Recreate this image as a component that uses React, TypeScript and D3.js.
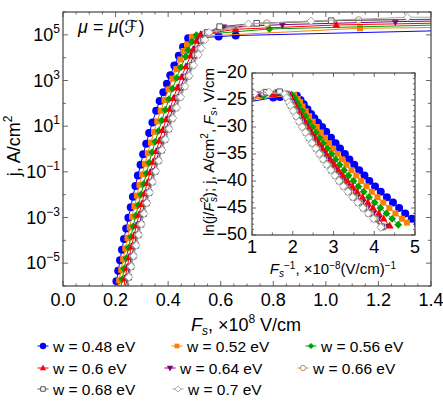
import React from "react";
import * as d3 from "d3";

const w048 = [[0.667,-25.68],[1.522,-24.56],[1.689,-24.46],[2.10,-24.2],[2.19,-25.0],[2.27,-25.8],[2.36,-26.7],[2.45,-27.6],[2.53,-28.4],[2.62,-29.2],[2.72,-30.0],[2.82,-30.9],[2.94,-32.0],[3.05,-33.0],[3.16,-34.0],[3.28,-35.0],[3.39,-36.0],[3.51,-37.0],[3.63,-38.0],[3.76,-39.0],[3.88,-40.0],[4.02,-41.0],[4.16,-42.0],[4.31,-43.0],[4.46,-44.0],[4.61,-45.0],[4.76,-46.0],[4.92,-47.0],[5.07,-48.0]];
const w052 = [[0.667,-25.38],[0.885,-24.91],[2.04,-24.1],[2.12,-24.8],[2.18,-25.4],[2.24,-26.2],[2.32,-27.1],[2.40,-28.0],[2.49,-29.0],[2.59,-30.0],[2.69,-31.0],[2.79,-32.0],[2.89,-33.0],[2.99,-34.0],[3.10,-35.0],[3.21,-36.0],[3.32,-37.0],[3.44,-38.0],[3.56,-39.0],[3.68,-40.0],[3.81,-41.0],[3.94,-42.0],[4.08,-43.0],[4.22,-44.0],[4.37,-45.0],[4.52,-46.0],[4.68,-47.0],[4.80,-47.7]];
const w056 = [[0.667,-25.10],[1.274,-24.25],[1.97,-24.0],[2.04,-24.6],[2.10,-25.4],[2.14,-26.0],[2.23,-27.0],[2.31,-28.0],[2.40,-29.0],[2.48,-30.0],[2.57,-31.0],[2.66,-32.0],[2.75,-33.0],[2.85,-34.0],[2.95,-35.0],[3.05,-36.0],[3.15,-37.0],[3.26,-38.0],[3.37,-39.0],[3.49,-40.0],[3.61,-41.0],[3.74,-42.0],[3.87,-43.0],[4.01,-44.0],[4.15,-45.0],[4.30,-46.0],[4.44,-47.0],[4.59,-48.1]];
const w060 = [[0.667,-24.92],[0.962,-24.41],[1.522,-23.93],[1.91,-24.0],[1.97,-24.6],[2.02,-25.4],[2.06,-26.0],[2.14,-27.0],[2.22,-28.0],[2.30,-29.0],[2.38,-30.0],[2.46,-31.0],[2.55,-32.0],[2.64,-33.0],[2.73,-34.0],[2.82,-35.0],[2.92,-36.0],[3.02,-37.0],[3.12,-38.0],[3.23,-39.0],[3.34,-40.0],[3.46,-41.0],[3.58,-42.0],[3.71,-43.0],[3.84,-44.0],[3.97,-45.0],[4.11,-46.0],[4.23,-47.0],[4.38,-48.3]];
const w064 = [[0.667,-24.71],[0.791,-24.47],[1.198,-23.94],[1.639,-23.58],[1.87,-24.0],[1.92,-24.6],[1.97,-25.4],[2.01,-26.0],[2.08,-27.0],[2.16,-28.0],[2.23,-29.0],[2.31,-30.0],[2.39,-31.0],[2.47,-32.0],[2.55,-33.0],[2.64,-34.0],[2.73,-35.0],[2.82,-36.0],[2.91,-37.0],[3.01,-38.0],[3.11,-39.0],[3.22,-40.0],[3.33,-41.0],[3.45,-42.0],[3.57,-43.0],[3.70,-44.0],[3.83,-45.0],[3.97,-46.0],[4.10,-47.0],[4.27,-48.4]];
const w066 = [[0.667,-24.57],[0.889,-24.06],[1.29,-23.65],[1.84,-23.9],[1.89,-24.6],[1.94,-25.4],[1.98,-26.0],[2.05,-27.0],[2.12,-28.0],[2.19,-29.0],[2.27,-30.0],[2.35,-31.0],[2.43,-32.0],[2.51,-33.0],[2.60,-34.0],[2.69,-35.0],[2.78,-36.0],[2.87,-37.0],[2.97,-38.0],[3.07,-39.0],[3.17,-40.0],[3.28,-41.0],[3.40,-42.0],[3.52,-43.0],[3.64,-44.0],[3.77,-45.0],[3.90,-46.0],[4.03,-47.0],[4.21,-48.5]];
const w068 = [[0.667,-24.53],[0.98,-23.94],[1.357,-23.55],[1.678,-23.47],[1.82,-23.9],[1.87,-24.6],[1.92,-25.4],[1.96,-26.0],[2.03,-27.0],[2.10,-28.0],[2.17,-29.0],[2.25,-30.0],[2.33,-31.0],[2.41,-32.0],[2.49,-33.0],[2.58,-34.0],[2.67,-35.0],[2.76,-36.0],[2.85,-37.0],[2.95,-38.0],[3.05,-39.0],[3.15,-40.0],[3.26,-41.0],[3.37,-42.0],[3.49,-43.0],[3.61,-44.0],[3.74,-45.0],[3.87,-46.0],[4.00,-47.0],[4.18,-48.5]];
const w070 = [[0.667,-24.34],[0.763,-24.10],[1.06,-23.81],[1.418,-23.53],[1.80,-23.9],[1.85,-24.6],[1.90,-25.4],[1.94,-26.0],[2.01,-27.0],[2.08,-28.0],[2.15,-29.0],[2.23,-30.0],[2.31,-31.0],[2.39,-32.0],[2.47,-33.0],[2.56,-34.0],[2.65,-35.0],[2.74,-36.0],[2.83,-37.0],[2.93,-38.0],[3.03,-39.0],[3.13,-40.0],[3.24,-41.0],[3.35,-42.0],[3.47,-43.0],[3.59,-44.0],[3.72,-45.0],[3.85,-46.0],[3.98,-47.0],[4.16,-48.6]];

const labels = ["w = 0.48 eV", "w = 0.52 eV", "w = 0.56 eV", "w = 0.6 eV", "w = 0.64 eV", "w = 0.66 eV", "w = 0.68 eV", "w = 0.7 eV"];
const xTicks = [0, 0.2, 0.4, 0.6, 0.8, 1.0, 1.2, 1.4];
const yExp = [-5, -3, -1, 1, 3, 5];
const insetXTicks = [1, 2, 3, 4, 5];
const insetYTicks = [-50, -45, -40, -35, -30, -25, -20];

const series = [
  { data: w048, color: "#0000ff", shape: "circle", open: false, s: 4 },
  { data: w052, color: "#ff8000", shape: "square", open: false, s: 3 },
  { data: w056, color: "#00a000", shape: "diamond", open: false, s: 3 },
  { data: w060, color: "#ff0000", shape: "triUp", open: false, s: 3.4 },
  { data: w064, color: "#800080", shape: "triDown", open: false, s: 3.4 },
  { data: w066, color: "#c09060", shape: "circle", open: true, s: 3.3 },
  { data: w068, color: "#555555", shape: "square", open: true, s: 2.8 },
  { data: w070, color: "#aaaaaa", shape: "diamond", open: true, s: 3 },
];

// legend layout (marker centre x, row y)
const legendPos = [[43, 346], [177, 346], [311, 346], [43, 368], [170, 368], [303, 368], [43, 389], [178, 389]];

const FONT = "Liberation Sans, Arial, DejaVu Sans, sans-serif";

function markerPath(shape: string, s: number) {
  switch (shape) {
    case "circle":
      return d3.symbol(d3.symbolCircle, Math.PI * s * s)();
    case "square":
      return `M${-s},${-s}H${s}V${s}H${-s}Z`;
    case "diamond":
      return `M0,${-s * 1.3}L${s * 1.3},0L0,${s * 1.3}L${-s * 1.3},0Z`;
    case "triUp":
      return `M0,${-s * 1.25}L${s * 1.15},${s * 0.8}L${-s * 1.15},${s * 0.8}Z`;
    default:
      return `M0,${s * 1.25}L${s * 1.15},${-s * 0.8}L${-s * 1.15},${-s * 0.8}Z`;
  }
}

// Fs in 1e8 V/cm, j in A/cm^2
const toMain = (p: number[]) => {
  const F = 1 / p[0];
  return [F, Math.exp(p[1]) * (F * 1e8) ** 2];
};

const x = d3.scaleLinear().domain([0, 1.4]).range([63, 431]);
const y = d3.scaleLog().domain([1e-6, 1e6]).range([286, 12]);
const xi = d3.scaleLinear().domain([1, 5]).range([252, 415]);
const yi = d3.scaleLinear().domain([-50, -20]).range([235, 73]);

const FRAME = "#444";

export default function App() {
  const mainLine = d3.line<number[]>().x((d) => x(d[0])).y((d) => y(d[1]));
  const insetLine = d3.line<number[]>().x((d) => xi(d[0])).y((d) => yi(d[1]));

  const mainSeries = series.map((s) => ({
    ...s,
    pts: s.data.map(toMain).sort((a, b) => a[0] - b[0]),
  }));
  const insetSeries = series.map((s) => ({
    ...s,
    pts: [...s.data].sort((a, b) => a[0] - b[0]),
  }));

  const xMinor = d3.range(0, 1.4001, 0.05);
  const yDec = d3.range(-6, 7);
  const xiMinor = d3.range(1, 5.001, 0.5);
  const yiMinor = d3.range(-50, -19.9, 1);

  const [x0, x1] = x.range();
  const [y0, y1] = y.range();
  const [ix0, ix1] = xi.range();
  const [iy0, iy1] = yi.range();

  return (
    <svg width={443} height={403} style={{ display: "block", position: "absolute", left: 0, top: 0 }} fontFamily={FONT}>
      <defs>
        <clipPath id="clipMain">
          <rect x={x0} y={y1} width={x1 - x0} height={y0 - y1} />
        </clipPath>
        <clipPath id="clipInset">
          <rect x={ix0} y={iy1} width={ix1 - ix0} height={iy0 - iy1} />
        </clipPath>
      </defs>
      <rect width={443} height={403} fill="#fff" />

      {/* main curves */}
      <g clipPath="url(#clipMain)">
        {mainSeries.map((s, i) => (
          <g key={i}>
            <path d={mainLine(s.pts) || ""} fill="none" stroke={s.color} strokeWidth={1} />
            {s.pts.map((p, k) => (
              <path
                key={k}
                d={markerPath(s.shape, s.s) || ""}
                transform={`translate(${x(p[0])},${y(p[1])})`}
                fill={s.open ? "#fff" : s.color}
                stroke={s.color}
                strokeWidth={s.open ? 1 : 0}
              />
            ))}
          </g>
        ))}
      </g>

      {/* main frame + ticks */}
      <rect x={x0} y={y1} width={x1 - x0} height={y0 - y1} fill="none" stroke={FRAME} strokeWidth={1.2} />
      {xMinor.map((v, i) => {
        const major = Math.abs(v / 0.2 - Math.round(v / 0.2)) < 1e-6;
        const len = major ? 5 : 2.5;
        return (
          <g key={i} stroke={FRAME} strokeWidth={0.8}>
            <line x1={x(v)} x2={x(v)} y1={y0} y2={y0 - len} />
            <line x1={x(v)} x2={x(v)} y1={y1} y2={y1 + len} />
          </g>
        );
      })}
      {yDec.map((e) => {
        const len = e % 2 !== 0 ? 5 : 3;
        const yy = y(10 ** e);
        return (
          <g key={e} stroke={FRAME} strokeWidth={0.8}>
            <line x1={x0} x2={x0 + len} y1={yy} y2={yy} />
            <line x1={x1} x2={x1 - len} y1={yy} y2={yy} />
          </g>
        );
      })}
      {xTicks.map((v) => (
        <text key={v} x={x(v)} y={306} textAnchor="middle" fontSize={18}>
          {d3.format(".1f")(v)}
        </text>
      ))}
      {yExp.map((e) => (
        <text key={e} x={60} y={y(10 ** e) + 6} textAnchor="end" fontSize={18}>
          10
          <tspan dy={-8} fontSize={12}>
            {e < 0 ? "\u2212" + Math.abs(e) : e}
          </tspan>
        </text>
      ))}
      <text x={246} y={331} textAnchor="middle" fontSize={18}>
        <tspan fontStyle="italic">F</tspan>
        <tspan fontStyle="italic" fontSize={12} dy={4}>s</tspan>
        <tspan dy={-4}>, ×10</tspan>
        <tspan fontSize={12} dy={-8}>8</tspan>
        <tspan dy={8}> V/cm</tspan>
      </text>
      <text transform="translate(20,146) rotate(-90)" textAnchor="middle" fontSize={18}>
        j, A/cm
        <tspan dy={-8} fontSize={12}>2</tspan>
      </text>
      <text x={78} y={33} fontSize={18}>
        <tspan fontStyle="italic">μ</tspan> = <tspan fontStyle="italic">μ</tspan>(ℱ)
      </text>

      {/* inset */}
      <rect x={ix0} y={iy1} width={ix1 - ix0} height={iy0 - iy1} fill="#fff" />
      <g clipPath="url(#clipInset)">
        {insetSeries.map((s, i) => (
          <g key={i}>
            <path d={insetLine(s.pts) || ""} fill="none" stroke={s.color} strokeWidth={1} />
            {s.pts.map((p, k) => (
              <path
                key={k}
                d={markerPath(s.shape, s.s) || ""}
                transform={`translate(${xi(p[0])},${yi(p[1])})`}
                fill={s.open ? "#fff" : s.color}
                stroke={s.color}
                strokeWidth={s.open ? 1 : 0}
              />
            ))}
          </g>
        ))}
      </g>
      <rect x={ix0} y={iy1} width={ix1 - ix0} height={iy0 - iy1} fill="none" stroke={FRAME} strokeWidth={1.2} />
      {xiMinor.map((v, i) => {
        const len = Number.isInteger(v) ? 4 : 2.5;
        return (
          <g key={i} stroke={FRAME} strokeWidth={0.8}>
            <line x1={xi(v)} x2={xi(v)} y1={iy0} y2={iy0 - len} />
            <line x1={xi(v)} x2={xi(v)} y1={iy1} y2={iy1 + len} />
          </g>
        );
      })}
      {yiMinor.map((v, i) => {
        const len = v % 5 === 0 ? 4 : 2;
        return (
          <g key={i} stroke={FRAME} strokeWidth={0.8}>
            <line x1={ix0} x2={ix0 + len} y1={yi(v)} y2={yi(v)} />
            <line x1={ix1} x2={ix1 - len} y1={yi(v)} y2={yi(v)} />
          </g>
        );
      })}
      {insetXTicks.map((v) => (
        <text key={v} x={xi(v)} y={253} textAnchor="middle" fontSize={18}>
          {v}
        </text>
      ))}
      {insetYTicks.map((v) => (
        <text key={v} x={247} y={yi(v) + 5} textAnchor="end" fontSize={18}>
          {"\u2212" + Math.abs(v)}
        </text>
      ))}
      <text x={333} y={274} textAnchor="middle" fontSize={15}>
        <tspan fontStyle="italic">F</tspan>
        <tspan fontStyle="italic" fontSize={10} dy={3}>s</tspan>
        <tspan fontSize={10} dy={-8}>{"\u22121"}</tspan>
        <tspan dy={5}>, ×10</tspan>
        <tspan fontSize={10} dy={-5}>{"\u22128"}</tspan>
        <tspan dy={5}>(V/cm)</tspan>
        <tspan fontSize={10} dy={-5}>{"\u22121"}</tspan>
      </text>
      <text transform="translate(214,152) rotate(-90)" textAnchor="middle" fontSize={15}>
        ln(j/
        <tspan fontStyle="italic">F</tspan>
        <tspan fontSize={10} dy={-6}>2</tspan>
        <tspan fontSize={10} fontStyle="italic" dx={-5} dy={9}>s</tspan>
        <tspan dy={-3}>); j, A/cm</tspan>
        <tspan fontSize={10} dy={-6}>2</tspan>
        <tspan dy={6}>, </tspan>
        <tspan fontStyle="italic">F</tspan>
        <tspan fontStyle="italic" fontSize={10} dy={3}>s</tspan>
        <tspan dy={-3}>, V/cm</tspan>
      </text>

      {/* legend */}
      {series.map((s, i) => {
        const [cx, cy] = legendPos[i];
        return (
          <g key={i}>
            <line x1={cx - 5.5} x2={cx + 5.5} y1={cy} y2={cy} stroke={s.color} strokeWidth={1} />
            <path
              d={markerPath(s.shape, s.s * 0.8) || ""}
              transform={`translate(${cx},${cy})`}
              fill={s.open ? "#fff" : s.color}
              stroke={s.color}
              strokeWidth={s.open ? 1 : 0}
            />
            <text x={cx + 10} y={cy + 5.5} fontSize={15.5}>
              {labels[i]}
            </text>
          </g>
        );
      })}
    </svg>
  );
}
